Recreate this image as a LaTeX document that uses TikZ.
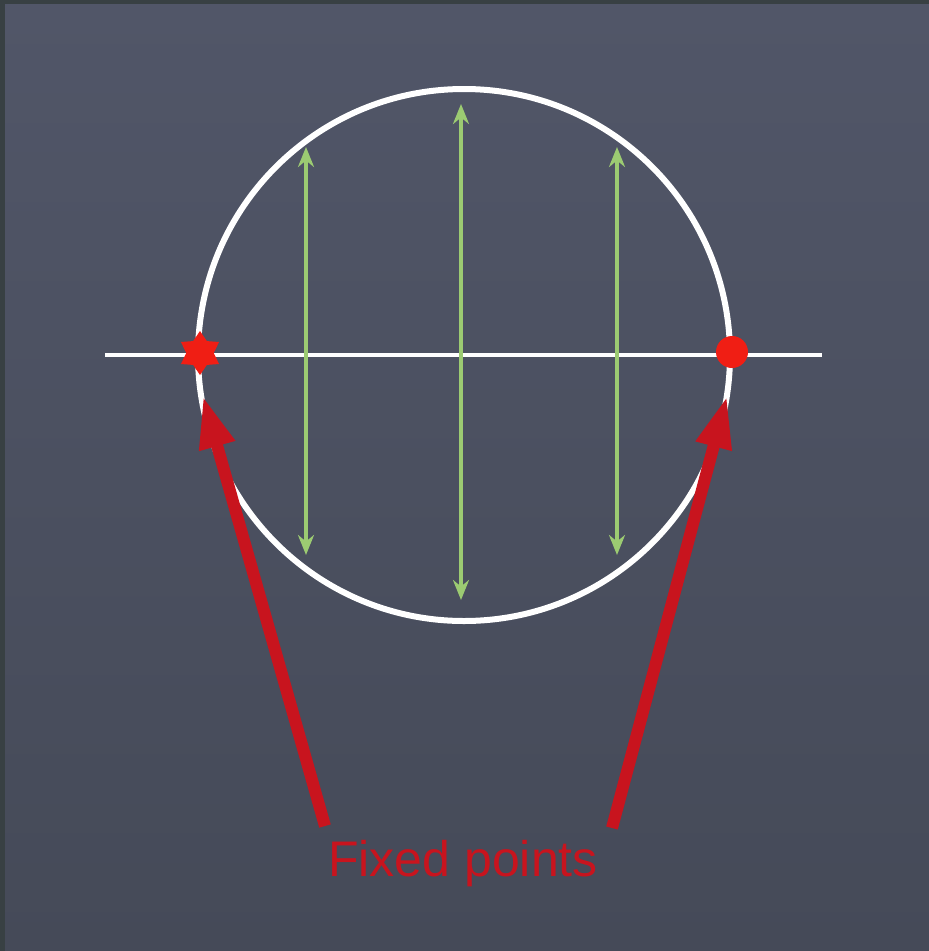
\documentclass[tikz,border=0pt]{standalone}
\usepackage{fontspec}
\setmainfont{Liberation Sans}
\usetikzlibrary{arrows.meta,shapes.geometric}
\definecolor{boardEdge}{HTML}{384043}
\definecolor{boardTop}{HTML}{515668}
\definecolor{boardBottom}{HTML}{454A58}
\definecolor{chalkGreen}{HTML}{9CCB72}
\definecolor{chalkRed}{HTML}{C8141E}
\definecolor{dotRed}{HTML}{F01E14}

\begin{document}
\begin{tikzpicture}[x=1pt, y=-1pt,
    chalk/.style={draw=white, line width=6pt},
    swing/.style={{Stealth[length=20pt,width=16pt]}-{Stealth[length=20pt,width=16pt]},
      chalkGreen, line width=4pt},
    pointer/.style={-{Triangle[length=52pt,width=34pt]}, chalkRed, line width=12pt},
    fixdot/.style={circle, fill=dotRed, inner sep=0pt, minimum size=32pt},
    fixstar/.style={star, star points=6, star point ratio=1.6, fill=dotRed,
      inner sep=0pt, minimum size=44pt}]
  % board
  \fill[boardEdge] (0,0) rectangle (929,951);
  \shade[top color=boardTop, bottom color=boardBottom] (5,4) rectangle (929,951);
  \useasboundingbox (0,0) rectangle (929,951);

  % unit circle and real axis
  \node[chalk, circle, minimum size=532pt, inner sep=0pt] (disc) at (464,355) {};
  \coordinate (axisL) at (105,355);
  \coordinate (axisR) at (822,355);
  \draw[white, line width=4pt] (axisL) -- (axisR);

  % reflections
  \coordinate (swingLtop) at (306,147);
  \coordinate (swingLbot) at (306,555);
  \coordinate (swingMtop) at (461,104);
  \coordinate (swingMbot) at (461,600);
  \coordinate (swingRtop) at (617,147);
  \coordinate (swingRbot) at (617,555);
  \draw[swing] (swingLtop) -- (swingLbot);
  \draw[swing] (swingMtop) -- (swingMbot);
  \draw[swing] (swingRtop) -- (swingRbot);

  % fixed points
  \node[fixstar] (fixL) at (200,353) {};
  \node[fixdot] (fixR) at (732,352) {};

  \node[text=chalkRed, font=\fontsize{50}{54}\selectfont] (caption) at (463,864) {Fixed points};
  \coordinate (footL) at (325,826);
  \coordinate (tipL) at (203,396);
  \coordinate (footR) at (612,828);
  \coordinate (tipR) at (727,396);
  \draw[pointer] (footL) -- (tipL);
  \draw[pointer] (footR) -- (tipR);
\end{tikzpicture}
\end{document}
